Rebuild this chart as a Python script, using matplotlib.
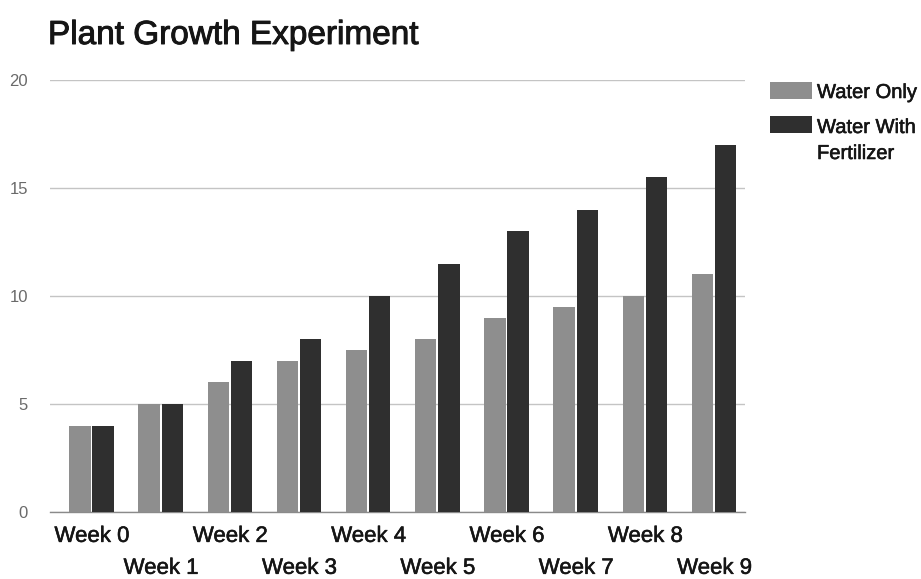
import matplotlib
matplotlib.use("Agg")
import matplotlib.pyplot as plt
import matplotlib.patheffects as pe
import numpy as np
from matplotlib.patches import Rectangle

plt.rcParams['font.family'] = ['Liberation Sans', 'DejaVu Sans']

weeks = ["Week 0", "Week 1", "Week 2", "Week 3", "Week 4",
         "Week 5", "Week 6", "Week 7", "Week 8", "Week 9"]
water_only = [4, 5, 6, 7, 7.5, 8, 9, 9.5, 10, 11]
with_fertilizer = [4, 5, 7, 8, 10, 11.5, 13, 14, 15.5, 17]
series_names = ["Water Only", "Water With\nFertilizer"]
series_colors = ["#8e8e8e", "#2f2f2f"]
y_ticks = [0, 5, 10, 15, 20]

heavy = [pe.withStroke(linewidth=0.7, foreground="#151515")]
medium = [pe.withStroke(linewidth=0.4, foreground="#151515")]

fig = plt.figure(figsize=(9.21, 5.79), dpi=100)
ax = fig.add_axes([50 / 921, 1 - 512 / 579, 695 / 921, 432 / 579])

x = np.arange(len(weeks))
bw = 0.31
ax.bar(x - 0.175, water_only, width=bw, color=series_colors[0], zorder=3)
ax.bar(x + 0.16, with_fertilizer, width=bw, color=series_colors[1], zorder=3)

ax.set_xlim(-0.607, 9.44)
ax.set_ylim(0, 20)
ax.set_yticks(y_ticks)
ax.set_yticklabels([str(v) for v in y_ticks], color="#6a6a6a", fontsize=12)
ax.tick_params(axis="y", length=0, pad=16)
ax.yaxis.grid(True, color="#c4c4c4", linewidth=1.0, zorder=0)
ax.set_axisbelow(True)

ax.set_xticks(x)
ax.set_xticklabels(weeks, fontsize=16, color="#151515")
ax.tick_params(axis="x", length=0)
for i, tick in enumerate(ax.xaxis.get_major_ticks()):
    tick.set_pad(10 if i % 2 == 0 else 33)
    tick.label1.set_path_effects(medium)

for side in ("top", "right", "left"):
    ax.spines[side].set_visible(False)
ax.spines["bottom"].set_color("#8a8a8a")
ax.spines["bottom"].set_linewidth(1.0)

fig.text(48 / 921, 1 - 44 / 579, "Plant Growth Experiment", fontsize=24,
         color="#151515", ha="left", va="baseline", path_effects=heavy)

# legend swatches and labels
legend_tops = [82, 116]
legend_baselines = [98, 133]
for name, color, top, base in zip(series_names, series_colors, legend_tops, legend_baselines):
    fig.patches.append(Rectangle((770 / 921, 1 - (top + 17) / 579), 42 / 921, 17 / 579,
                                 transform=fig.transFigure, facecolor=color,
                                 edgecolor="none"))
    first, *rest = name.split("\n")
    fig.text(817 / 921, 1 - base / 579, first, fontsize=14.5, color="#151515",
             ha="left", va="baseline", path_effects=medium)
    for k, line in enumerate(rest, start=1):
        fig.text(817 / 921, 1 - (base + 26 * k) / 579, line, fontsize=14.5,
                 color="#151515", ha="left", va="baseline", path_effects=medium)

fig.savefig("out.png", dpi=100, facecolor="white")
